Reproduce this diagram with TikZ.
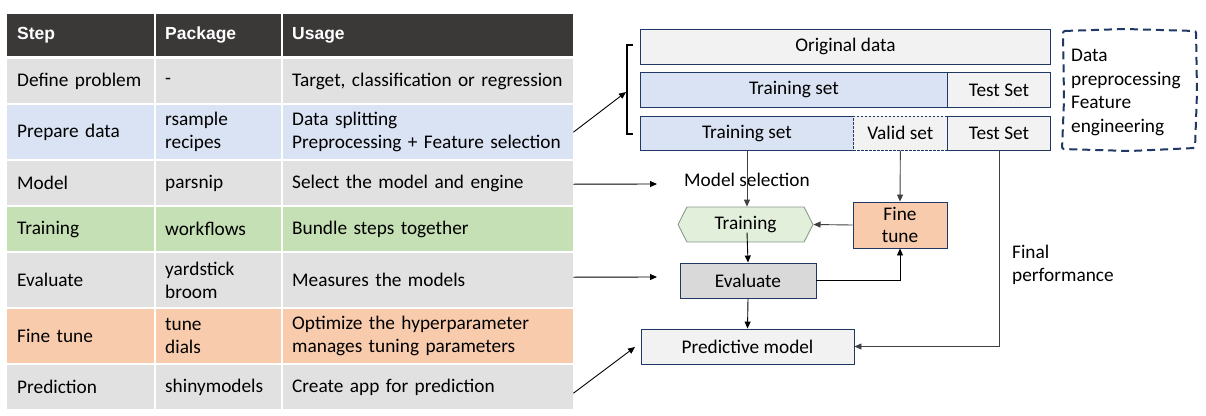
\documentclass[tikz,border=0pt]{standalone}
\usepackage{fontspec}
\setmainfont{Carlito}
\newfontfamily\hdrfont{Liberation Sans}
\usetikzlibrary{arrows.meta,shapes.symbols}
\definecolor{hdrc}{HTML}{3B3838}
\definecolor{cgray}{HTML}{E1E1E1}
\definecolor{cblue}{HTML}{DAE3F3}
\definecolor{cgreen}{HTML}{C5E0B4}
\definecolor{corange}{HTML}{F8CBAD}
\definecolor{lgray}{HTML}{F2F2F2}
\definecolor{navy}{HTML}{203864}
\definecolor{hexfill}{HTML}{E2EFDA}
\definecolor{hexline}{HTML}{8A9A88}
\definecolor{evalfill}{HTML}{D9D9D9}
\definecolor{conn}{HTML}{404040}
\begin{document}
\begin{tikzpicture}[x=1pt,y=-1pt,font=\fontsize{19.3}{23}\selectfont,
  cell/.style={anchor=north west,inner ysep=0pt,align=left,text=black},
  ca/.style={cell,inner xsep=10pt,minimum width=147pt,text width=127pt},
  cb/.style={cell,inner xsep=9pt,minimum width=125pt,text width=107pt},
  cc/.style={cell,inner xsep=9pt,minimum width=290pt,text width=272pt},
  hd/.style={fill=hdrc,text=white,font=\hdrfont\bfseries\fontsize{17.5}{21}\selectfont,minimum height=42pt},
  databox/.style={draw=navy,line width=0.9pt,anchor=north west,inner sep=0pt,align=center},
  arr/.style={line width=0.9pt,-{Triangle[length=7pt,width=6pt]}},
  garr/.style={arr,draw=conn,color=conn},
  plain/.style={inner sep=0pt,align=left,anchor=north west}
]
\useasboundingbox (0,0) rectangle (1206,415);
% header
\node[ca,hd] (h1) at (7,14) {Step};
\node[cb,hd] (h2) at (156,14) {Package};
\node[cc,hd] (h3) at (283,14) {Usage};
% row 1
\node[ca,fill=cgray,minimum height=44pt] (r1a) at (7,59) {Define problem};
\node[cb,fill=cgray,minimum height=44pt] (r1b) at (156,59) {-};
\node[cc,fill=cgray,minimum height=44pt] (r1c) at (283,59) {Target, classification or regression};
% row 2
\node[ca,fill=cblue,minimum height=54pt] (r2a) at (7,105) {Prepare data};
\node[cb,fill=cblue,minimum height=54pt] (r2b) at (156,105) {rsample\\recipes};
\node[cc,fill=cblue,minimum height=54pt] (r2c) at (283,105) {Data splitting\\Preprocessing + Feature selection};
% row 3
\node[ca,fill=cgray,minimum height=44pt] (r3a) at (7,161) {Model};
\node[cb,fill=cgray,minimum height=44pt] (r3b) at (156,161) {parsnip};
\node[cc,fill=cgray,minimum height=44pt] (r3c) at (283,161) {Select the model and engine};
% row 4
\node[ca,fill=cgreen,minimum height=44pt] (r4a) at (7,207) {Training};
\node[cb,fill=cgreen,minimum height=44pt] (r4b) at (156,207) {workflows};
\node[cc,fill=cgreen,minimum height=44pt] (r4c) at (283,207) {Bundle steps together};
% row 5
\node[ca,fill=cgray,minimum height=54pt] (r5a) at (7,253) {Evaluate};
\node[cb,fill=cgray,minimum height=54pt] (r5b) at (156,253) {yardstick\\broom};
\node[cc,fill=cgray,minimum height=54pt] (r5c) at (283,253) {Measures the models};
% row 6
\node[ca,fill=corange,minimum height=54pt] (r6a) at (7,309) {Fine tune};
\node[cb,fill=corange,minimum height=54pt] (r6b) at (156,309) {tune\\dials};
\node[cc,fill=corange,minimum height=54pt] (r6c) at (283,309) {Optimize the hyperparameter\\manages tuning parameters};
% row 7
\node[ca,fill=cgray,minimum height=44pt] (r7a) at (7,365) {Prediction};
\node[cb,fill=cgray,minimum height=44pt] (r7b) at (156,365) {shinymodels};
\node[cc,fill=cgray,minimum height=44pt] (r7c) at (283,365) {Create app for prediction};

% data split boxes
\node[databox,fill=lgray,minimum width=410pt,minimum height=35pt] (orig) at (640,29) {Original data};
\node[databox,fill=cblue,minimum width=307pt,minimum height=35pt] (train2) at (640,72) {Training set};
\node[databox,fill=lgray,minimum width=103pt,minimum height=35pt] (test2) at (947,72) {Test Set};
\node[databox,fill=cblue,minimum width=213pt,minimum height=34pt] (train3) at (640,116) {Training set};
\node[databox,fill=lgray,minimum width=94pt,minimum height=34pt,dashed,dash pattern=on 2.5pt off 1.5pt,line width=0.7pt] (valid3) at (853,116) {Valid set};
\node[databox,fill=lgray,minimum width=103pt,minimum height=34pt] (test3) at (947,116) {Test Set};

% bracket
\draw[line width=1.6pt] (633,45) -- (627,45) -- (627,134) -- (633,134);
\coordinate (brk) at (626,92);

% dashed feature box
\draw[navy,line width=2pt,dash pattern=on 8pt off 5pt,rounded corners=2pt]
  (1063,31) -- (1125,29) -- (1196,31) -- (1197,92) -- (1195,148) -- (1130,151) -- (1062,149) -- (1064,100) -- cycle;
\node[plain,font=\fontsize{19.3}{23.6}\selectfont] (fe) at (1071,49) {Data\\preprocessing\\Feature\\engineering};

% flow
\node[inner sep=0pt] (msel) at (747,180) {Model selection};
\node[signal,signal to=east and west,signal pointer angle=126,draw=hexline,fill=hexfill,line width=0.9pt,minimum width=135pt,minimum height=35pt,inner sep=0pt] (training) at (745.5,224.5) {Training};
\node[draw=navy,fill=evalfill,line width=0.9pt,minimum width=136pt,minimum height=35pt,inner sep=0pt] (eval) at (748,280.5) {Evaluate};
\node[draw=navy,fill=corange,line width=0.9pt,minimum width=94pt,minimum height=46pt,inner sep=0pt,align=center,font=\fontsize{19.3}{22}\selectfont] (fine) at (900,225) {Fine\\tune};
\node[draw=navy,fill=lgray,line width=0.9pt,minimum width=213pt,minimum height=35pt,inner sep=0pt] (pred) at (747.5,346.5) {Predictive model};
\node[plain] (finalp) at (1012,245) {Final\\performance};

\coordinate (msarr) at (657,184);
\coordinate (evarr) at (657,277);
\coordinate (prarr) at (635,347);

% connectors
\draw[arr] (r2c.east) -- (brk);
\draw[arr] ([yshift=-1pt]r3c.east) -- (msarr);
\draw[arr] ([yshift=3pt]r5c.east) -- (evarr);
\draw[arr] ([yshift=-6pt]r7c.east) -- (prarr);
\draw[garr] (train3.south) -- (train3.south |- training.north);
\draw[garr] (valid3.south) -- (fine.north);
\draw[garr] (fine.west) -- (training.east);
\draw[arr] (training.center) ++(1.5,8) -- (eval.north);
\draw[arr] (eval.east) -| (fine.south);
\draw[arr] (eval.south) -- (pred.north);
\draw[garr] (test3.south) |- (pred.east);
\end{tikzpicture}
\end{document}
